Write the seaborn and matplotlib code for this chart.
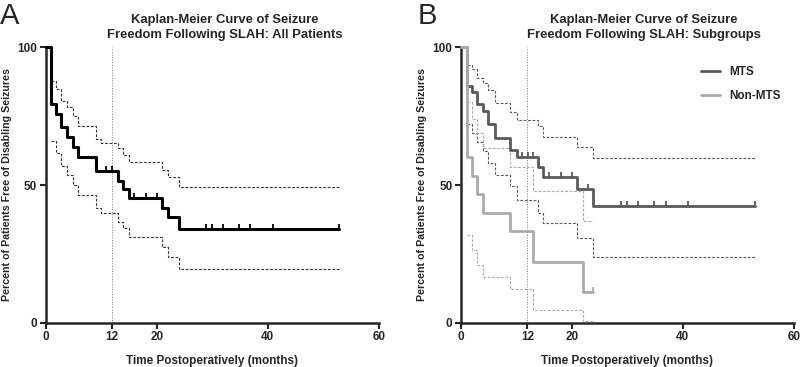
import numpy as np
import pandas as pd
import seaborn as sns
import matplotlib.pyplot as plt
from matplotlib.markers import TICKUP

sns.set_style("ticks")
plt.rcParams['font.family'] = ['Liberation Sans', 'DejaVu Sans']

# Panel A: all patients (times in months, survival in %)
a_times = [0, 0.9, 1.9, 2.8, 3.9, 5.0, 5.9, 9.0, 9.9, 13.0, 14.0, 15.0, 21.0, 22.0, 24.0]
a_surv = [100, 79.3, 75.7, 70.9, 67.3, 63.7, 60.3, 55.2, 55.2, 51.6, 48.6, 45.2, 41.6, 38.3, 34.1]
a_upper = [100, 87.8, 84.8, 80.5, 78.1, 75.1, 71.5, 66.7, 65.1, 63.3, 61.0, 58.2, 55.5, 52.8, 49.2]
a_lower = [100, 66.0, 61.5, 57.0, 53.5, 50.0, 46.4, 41.6, 39.7, 36.7, 34.3, 31.3, 27.6, 24.0, 19.6]
a_end = 52.9
a_censor = [10.8, 12.0, 16.0, 18.0, 20.0, 28.9, 29.9, 31.9, 34.9, 36.9, 40.9, 52.9]

# Panel B: MTS
mts_times = [0, 1.1, 2.0, 2.9, 4.1, 5.0, 6.1, 8.9, 10.1, 13.9, 14.9, 20.9, 23.9]
mts_surv = [100, 86.0, 83.6, 79.3, 76.9, 72.1, 67.0, 62.7, 60.3, 56.6, 53.0, 48.5, 42.5]
mts_upper = [100, 93.5, 91.9, 88.7, 86.8, 84.4, 79.6, 76.6, 73.6, 71.5, 67.5, 63.9, 59.8]
mts_lower = [100, 72.0, 69.0, 65.5, 62.5, 58.0, 53.5, 49.5, 44.5, 40.0, 36.3, 30.7, 23.8]
mts_end = 53.0
mts_censor = [11.0, 12.1, 13.1, 15.9, 18.1, 20.0, 23.0, 28.9, 29.9, 31.9, 34.9, 36.9, 40.9, 53.0]

# Panel B: Non-MTS
non_times = [0, 1.1, 2.0, 2.9, 4.1, 8.9, 13.1, 22.0]
non_surv = [100, 60.0, 53.3, 46.7, 40.0, 33.3, 22.2, 11.1]
non_upper = [100, 80.0, 74.0, 69.0, 63.5, 56.5, 48.0, 37.1]
non_lower = [100, 31.9, 26.4, 21.0, 16.6, 12.2, 4.7, 0.8]
non_end = 23.9
non_censor = [23.9]

x_ticks = [0, 12, 20, 40, 60]
y_ticks = [0, 50, 100]


def draw_km(ax, times, surv, upper, lower, end, censor, color, ci_color, lw, label=None):
    df = pd.DataFrame({'t': times + [end], 's': surv + [surv[-1]]})
    sns.lineplot(data=df, x='t', y='s', ax=ax, color=color, lw=lw, drawstyle='steps-post',
                 estimator=None, sort=False, clip_on=False, label=label, zorder=4)
    for band in (upper, lower):
        d = pd.DataFrame({'t': times[1:] + [end], 's': band[1:] + [band[-1]]})
        sns.lineplot(data=d, x='t', y='s', ax=ax, color=ci_color, lw=0.8, drawstyle='steps-post',
                     estimator=None, sort=False, linestyle=(0, (2.5, 1.5)), clip_on=False, zorder=3)
    idx = np.searchsorted(times, censor, side='right') - 1
    levels = [surv[i] for i in idx]
    ax.plot(censor, levels, ls='none', marker=TICKUP, ms=3.5, mew=1.3, color=color,
            clip_on=False, zorder=5)


def style_axis(ax):
    ax.set_xlim(0, 60)
    ax.set_ylim(0, 100)
    ax.set_xticks(x_ticks)
    ax.set_yticks(y_ticks)
    ax.axvline(12, color='#777777', lw=0.7, ls=':', zorder=1)
    sns.despine(ax=ax)
    for s in ('left', 'bottom'):
        ax.spines[s].set_linewidth(1.8)
    ax.tick_params(width=1.5, length=4, labelsize=8.5, pad=2)
    for t in ax.get_xticklabels() + ax.get_yticklabels():
        t.set_fontweight('bold')
    ax.set_xlabel('Time Postoperatively (months)', fontsize=8.5, fontweight='bold')
    ax.set_ylabel('Percent of Patients Free of Disabling Seizures', fontsize=7.7, fontweight='bold')
    ax.xaxis.set_label_coords(0.5, -0.115)
    ax.yaxis.set_label_coords(-0.1, 0.5)


fig = plt.figure(figsize=(8, 3.67), dpi=100)
axA = fig.add_axes([0.0571, 0.1199, 0.4163, 0.752])
axB = fig.add_axes([0.5759, 0.1199, 0.4163, 0.752])

draw_km(axA, a_times, a_surv, a_upper, a_lower, a_end, a_censor, 'black', '#333333', 2.2)
style_axis(axA)

draw_km(axB, mts_times, mts_surv, mts_upper, mts_lower, mts_end, mts_censor, '#5a5a5a', '#5a5a5a', 2.0, 'MTS')
draw_km(axB, non_times, non_surv, non_upper, non_lower, non_end, non_censor, '#ababab', '#ababab', 2.0, 'Non-MTS')
style_axis(axB)
leg = axB.legend(loc='upper left', bbox_to_anchor=(0.69, 0.97), frameon=False, fontsize=8.5,
                 handlelength=1.6, labelspacing=1.0)
for t in leg.get_texts():
    t.set_fontweight('bold')

fig.text(225 / 800, 0.925, 'Kaplan-Meier Curve of Seizure\nFreedom Following SLAH: All Patients',
         ha='center', va='center', fontsize=9.4, fontweight='bold', linespacing=1.35)
fig.text(644 / 800, 0.925, 'Kaplan-Meier Curve of Seizure\nFreedom Following SLAH: Subgroups',
         ha='center', va='center', fontsize=9.4, fontweight='bold', linespacing=1.35)
fig.text(0.0, 0.995, 'A', ha='left', va='top', fontsize=21)
fig.text(0.522, 0.995, 'B', ha='left', va='top', fontsize=21)

fig.savefig('out.png', dpi=100)
